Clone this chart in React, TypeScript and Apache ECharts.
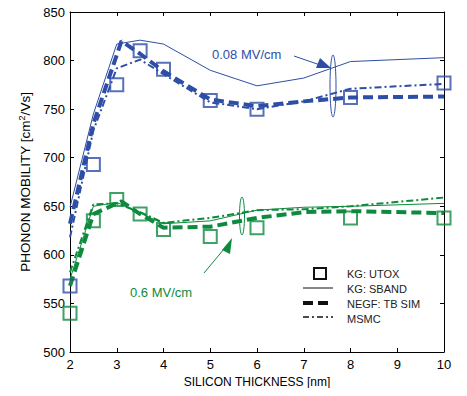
import React, { useEffect, useRef } from "react";
import * as echarts from "echarts";

const xTicks = [2, 3, 4, 5, 6, 7, 8, 9, 10];
const utoxX = [2, 2.5, 3, 3.5, 4, 5, 6, 8, 10];
const blueUtox = [568, 693, 775, 810, 791, 759, 750, 762, 777];
const greenUtox = [540, 635, 657, 642, 626, 619, 628, 638, 638];

const lineX = [2, 2.5, 3, 3.5, 4, 5, 6, 7, 8, 10];
const blueSband = [649, 745, 817, 821, 817, 790, 774, 782, 799, 803];
const blueMsmc = [618, 728, 792, 801, 786, 757, 750, 758, 771, 776];
const greenSband = [575, 650, 654, 643, 632, 635, 646, 649, 650, 653];
const greenMsmc = [582, 652, 653, 644, 633, 638, 646, 647, 650, 659];
const negfX = [2, 2.5, 3.1, 3.5, 4, 5, 6, 7, 8, 10];
const blueNegf = [632, 735, 820, 807, 789, 760, 753, 758, 762, 763];
const greenNegf = [568, 642, 655, 642, 628, 629, 638, 644, 645, 643];

const BLUE = "#2e4ea6";
const GREEN = "#0e8a3e";
const FONT = "Liberation Sans";

const pairs = (xs: number[], ys: number[]) => xs.map((x, i) => [x, ys[i]]);

export default function App() {
  const ref = useRef<HTMLDivElement>(null);
  useEffect(() => {
    const chart = echarts.init(ref.current!, undefined, { renderer: "svg" });
    const lineSeries = (data: number[][], color: string, kind: string) => ({
      type: "line",
      data,
      symbol: "none",
      z: kind === "negf" ? 3 : 2,
      lineStyle:
        kind === "sband"
          ? { color, width: 1, type: "solid" }
          : kind === "negf"
          ? { color, width: 4, type: [10, 5] }
          : { color, width: 2, type: [7, 3, 2, 3] },
    });
    const scatter = (data: number[][], color: string) => ({
      type: "scatter",
      data,
      symbol: "rect",
      symbolSize: 13,
      z: 4,
      itemStyle: { color: "rgba(255,255,255,0)", borderColor: color, borderWidth: 2 },
    });
    const axisCommon = {
      axisLine: { show: true, lineStyle: { color: "#000", width: 1 } },
      axisTick: { show: true, inside: true, length: 4, lineStyle: { color: "#000" } },
      splitLine: { show: false },
    };
    chart.setOption({
      animation: false,
      backgroundColor: "#fff",
      textStyle: { fontFamily: FONT },
      grid: { left: 70, right: 23, top: 12, bottom: 44 },
      xAxis: [
        {
          type: "value",
          min: 2,
          max: 10,
          interval: 1,
          data: xTicks,
          ...axisCommon,
          axisLabel: { color: "#000", fontSize: 13, fontFamily: FONT, margin: 6 },
          name: "SILICON THICKNESS [nm]",
          nameLocation: "middle",
          nameGap: 24,
          nameTextStyle: { color: "#000", fontSize: 12, fontFamily: FONT },
        },
        {
          type: "value",
          position: "top",
          min: 2,
          max: 10,
          interval: 1,
          ...axisCommon,
          axisLabel: { show: false },
        },
      ],
      yAxis: [
        {
          type: "value",
          min: 500,
          max: 850,
          interval: 50,
          ...axisCommon,
          axisLabel: { color: "#000", fontSize: 13, fontFamily: FONT, margin: 5 },
          name: "PHONON MOBILITY [cm{sup|2}/Vs]",
          nameLocation: "middle",
          nameGap: 35,
          nameTextStyle: {
            color: "#000",
            fontSize: 13.5,
            fontFamily: FONT,
            rich: { sup: { fontSize: 9, verticalAlign: "top", padding: [0, 0, 7, 0], color: "#000", fontFamily: FONT } },
          },
        },
        {
          type: "value",
          position: "right",
          min: 500,
          max: 850,
          interval: 50,
          ...axisCommon,
          axisLabel: { show: false },
        },
      ],
      series: [
        lineSeries(pairs(lineX, blueSband), BLUE, "sband"),
        lineSeries(pairs(negfX, blueNegf), BLUE, "negf"),
        lineSeries(pairs(lineX, blueMsmc), BLUE, "msmc"),
        lineSeries(pairs(lineX, greenSband), GREEN, "sband"),
        lineSeries(pairs(negfX, greenNegf), GREEN, "negf"),
        lineSeries(pairs(lineX, greenMsmc), GREEN, "msmc"),
        scatter(pairs(utoxX, blueUtox), BLUE),
        scatter(pairs(utoxX, greenUtox), GREEN),
      ],
      graphic: [
        { type: "text", left: 212, top: 48, style: { text: "0.08 MV/cm", fill: BLUE, font: `13px ${FONT}` } },
        { type: "line", shape: { x1: 294, y1: 56, x2: 326, y2: 67 }, style: { stroke: BLUE, lineWidth: 1 } },
        { type: "polygon", shape: { points: [[331, 68], [316, 68], [320, 58]] }, style: { fill: BLUE } },
        { type: "ellipse", shape: { cx: 333, cy: 86, rx: 3, ry: 31 }, style: { fill: "none", stroke: BLUE, lineWidth: 1 } },
        { type: "text", left: 130, top: 286, style: { text: "0.6 MV/cm", fill: GREEN, font: `13px ${FONT}` } },
        { type: "line", shape: { x1: 204, y1: 273, x2: 229, y2: 243 }, style: { stroke: GREEN, lineWidth: 1 } },
        { type: "polygon", shape: { points: [[232, 238], [222, 250], [230, 254]] }, style: { fill: GREEN } },
        { type: "ellipse", shape: { cx: 242, cy: 216, rx: 2.5, ry: 19 }, style: { fill: "none", stroke: GREEN, lineWidth: 1 } },
        { type: "rect", shape: { x: 314, y: 268, width: 12, height: 11 }, style: { fill: "none", stroke: "#111", lineWidth: 2 } },
        { type: "line", shape: { x1: 303, y1: 288, x2: 333, y2: 288 }, style: { stroke: "#111", lineWidth: 1 } },
        { type: "line", shape: { x1: 303, y1: 303, x2: 333, y2: 303 }, style: { stroke: "#111", lineWidth: 4, lineDash: [10, 5] } },
        { type: "line", shape: { x1: 303, y1: 317, x2: 333, y2: 317 }, style: { stroke: "#111", lineWidth: 1.5, lineDash: [6, 3, 2, 3] } },
        { type: "text", left: 347, top: 268, style: { text: "KG: UTOX", fill: "#222", font: `11px ${FONT}` } },
        { type: "text", left: 347, top: 283, style: { text: "KG: SBAND", fill: "#222", font: `11px ${FONT}` } },
        { type: "text", left: 347, top: 298, style: { text: "NEGF: TB SIM", fill: "#222", font: `11px ${FONT}` } },
        { type: "text", left: 347, top: 313, style: { text: "MSMC", fill: "#222", font: `11px ${FONT}` } },
      ],
    });
    return () => chart.dispose();
  }, []);
  return <div ref={ref} style={{ width: 467, height: 396, margin: -8 }} />;
}
